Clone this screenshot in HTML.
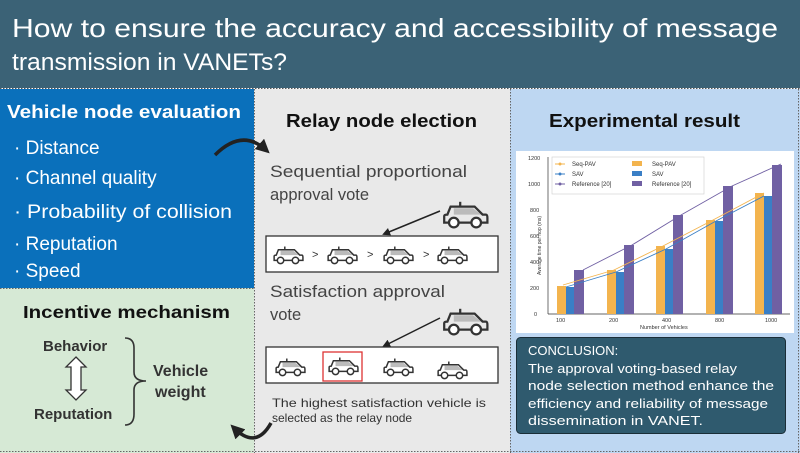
<!DOCTYPE html>
<html><head><meta charset="utf-8"><style>
html,body{margin:0;padding:0;background:#fff}
svg{display:block;font-family:"Liberation Sans",sans-serif}
</style></head><body>
<svg width="800" height="453" viewBox="0 0 800 453" xmlns="http://www.w3.org/2000/svg">
<defs>
<symbol id="car" viewBox="0 0 30 20">
<path d="M12 3 L12 6" fill="none" stroke="#333" stroke-width="1.4"/>
<path d="M8 7 L20 7 L25 11 L8 11 Z" fill="#bbb"/>
<path d="M6 6 L21 6 L26 11 L28 11 Q29 11 29 13 L29 16 L2 16 L2 12 Q2 11 4 11 Z" fill="none" stroke="#333" stroke-width="1.4"/>
<circle cx="8" cy="16" r="3" fill="#fff" stroke="#333" stroke-width="1.4"/>
<circle cx="22" cy="16" r="3" fill="#fff" stroke="#333" stroke-width="1.4"/>
</symbol>
<marker id="ah" markerWidth="8" markerHeight="8" refX="6" refY="4" orient="auto" markerUnits="userSpaceOnUse"><path d="M0 0 L8 4 L0 8 Z" fill="#222"/></marker>
<marker id="ah2" markerWidth="14" markerHeight="14" refX="9" refY="7" orient="auto" markerUnits="userSpaceOnUse"><path d="M0 0 L14 7 L0 14 Z" fill="#222"/></marker>
</defs>
<rect x="0" y="0" width="800" height="88" fill="#3b6276"/>
<text x="12" y="37" font-size="26" fill="#fff" textLength="766" lengthAdjust="spacingAndGlyphs">How to ensure the accuracy and accessibility of message</text>
<text x="12" y="70" font-size="24" fill="#fff" textLength="275" lengthAdjust="spacingAndGlyphs">transmission in VANETs?</text>
<line x1="0" y1="88.5" x2="800" y2="88.5" stroke="#555" stroke-dasharray="1.5 1.5"/>
<rect x="0" y="89" width="254" height="199" fill="#0a70bb"/>
<rect x="0" y="288" width="254" height="165" fill="#d6e9d5"/>
<rect x="254" y="89" width="256" height="364" fill="#e9e9e9"/>
<rect x="510" y="89" width="290" height="364" fill="#bed7f2"/>
<line x1="254.5" y1="89" x2="254.5" y2="453" stroke="#666" stroke-dasharray="1.5 1.5"/>
<line x1="510.5" y1="89" x2="510.5" y2="453" stroke="#666" stroke-dasharray="1.5 1.5"/>
<line x1="0" y1="288.5" x2="254" y2="288.5" stroke="#666" stroke-dasharray="1.5 1.5"/>
<line x1="0" y1="451.5" x2="800" y2="451.5" stroke="#666" stroke-dasharray="1.5 1.5"/>
<line x1="798.5" y1="89" x2="798.5" y2="453" stroke="#666" stroke-dasharray="1.5 1.5"/>
<text x="7" y="118" font-size="18.5" font-weight="bold" fill="#fff" textLength="234" lengthAdjust="spacingAndGlyphs">Vehicle node evaluation</text>
<g font-size="19" fill="#fff">
<text x="14" y="154">· Distance</text>
<text x="14" y="184">· Channel quality</text>
<text x="14" y="218" textLength="218" lengthAdjust="spacingAndGlyphs">· Probability of collision</text>
<text x="14" y="250">· Reputation</text>
<text x="14" y="277">· Speed</text>
</g>
<text x="23" y="318" font-size="17.5" font-weight="bold" fill="#111" textLength="207" lengthAdjust="spacingAndGlyphs">Incentive mechanism</text>
<g font-size="15" font-weight="bold" fill="#333">
<text x="43" y="351">Behavior</text>
<text x="34" y="419">Reputation</text>
<text x="153" y="376" font-size="16">Vehicle</text>
<text x="155" y="397" font-size="16">weight</text>
</g>
<path d="M76 357 L86 367 L81 367 L81 390 L86 390 L76 400 L66 390 L71 390 L71 367 L66 367 Z" fill="#fff" stroke="#333" stroke-width="1.3"/>
<path d="M125 338 Q134 338 134 348 L134 372 Q134 381 146 381 Q134 381 134 390 L134 414 Q134 425 125 425" fill="none" stroke="#333" stroke-width="1.6"/>
<path d="M215 155 Q242 128 266 150" fill="none" stroke="#222" stroke-width="3.5" marker-end="url(#ah2)"/>
<path d="M271 423 Q256 450 234 428" fill="none" stroke="#222" stroke-width="3.5" marker-end="url(#ah2)"/>
<text x="286" y="127" font-size="18" font-weight="bold" fill="#111" textLength="191" lengthAdjust="spacingAndGlyphs">Relay node election</text>
<g font-size="16.5" fill="#444">
<text x="270" y="177" textLength="197" lengthAdjust="spacingAndGlyphs">Sequential proportional</text>
<text x="270" y="200">approval vote</text>
<text x="270" y="297" textLength="175" lengthAdjust="spacingAndGlyphs">Satisfaction approval</text>
<text x="270" y="320">vote</text>
</g>
<use href="#car" x="441" y="196" width="48" height="34"/>
<line x1="440" y1="211" x2="384" y2="234" stroke="#222" stroke-width="1.5" marker-end="url(#ah)"/>
<rect x="266" y="236" width="232" height="36" fill="#fff" stroke="#333" stroke-width="1.3"/>
<use href="#car" x="272" y="243" width="32" height="22"/>
<use href="#car" x="326" y="243" width="32" height="22"/>
<use href="#car" x="382" y="243" width="32" height="22"/>
<use href="#car" x="436" y="243" width="32" height="22"/>
<g font-size="11" fill="#333"><text x="312" y="258">&gt;</text><text x="367" y="258">&gt;</text><text x="423" y="258">&gt;</text></g>
<use href="#car" x="441" y="303" width="48" height="34"/>
<line x1="440" y1="318" x2="384" y2="346" stroke="#222" stroke-width="1.5" marker-end="url(#ah)"/>
<rect x="266" y="347" width="232" height="36" fill="#fff" stroke="#333" stroke-width="1.3"/>
<rect x="323" y="352" width="39" height="29" fill="none" stroke="#d33" stroke-width="1.3"/>
<use href="#car" x="274" y="355" width="32" height="22"/>
<use href="#car" x="327" y="354" width="32" height="22"/>
<use href="#car" x="382" y="355" width="32" height="22"/>
<use href="#car" x="436" y="358" width="32" height="22"/>
<text x="272" y="407" font-size="12" fill="#333" textLength="214" lengthAdjust="spacingAndGlyphs">The highest satisfaction vehicle is</text>
<text x="272" y="422" font-size="12" fill="#333">selected as the relay node</text>
<text x="549" y="127" font-size="18" font-weight="bold" fill="#111" textLength="191" lengthAdjust="spacingAndGlyphs">Experimental result</text>
<rect x="516" y="151" width="278" height="182" fill="#fff"/>
<g font-size="5.5" fill="#333">
<line x1="548" y1="157" x2="548" y2="314" stroke="#333" stroke-width="0.7"/>
<line x1="548" y1="314" x2="790" y2="314" stroke="#333" stroke-width="0.7"/>
<text x="534" y="316">0</text><text x="530" y="290">200</text><text x="530" y="264">400</text><text x="530" y="238">600</text><text x="530" y="212">800</text><text x="528" y="186">1000</text><text x="528" y="160">1200</text>
<text x="556" y="322">100</text><text x="609" y="322">200</text><text x="662" y="322">400</text><text x="715" y="322">800</text><text x="765" y="322">1000</text>
<text x="640" y="329" font-size="5.5">Number of Vehicles</text>
<text transform="translate(541 275) rotate(-90)" font-size="5">Average time per hop (ms)</text>
</g>
<g>
<rect x="557" y="286" width="9" height="28" fill="#f3b44e"/><rect x="566" y="287" width="8" height="27" fill="#3a7fc6"/><rect x="574" y="270" width="10" height="44" fill="#7060a3"/>
<rect x="607" y="270" width="9" height="44" fill="#f3b44e"/><rect x="616" y="272" width="8" height="42" fill="#3a7fc6"/><rect x="624" y="245" width="10" height="69" fill="#7060a3"/>
<rect x="656" y="246" width="9" height="68" fill="#f3b44e"/><rect x="665" y="249" width="8" height="65" fill="#3a7fc6"/><rect x="673" y="215" width="10" height="99" fill="#7060a3"/>
<rect x="706" y="220" width="9" height="94" fill="#f3b44e"/><rect x="715" y="221" width="8" height="93" fill="#3a7fc6"/><rect x="723" y="186" width="10" height="128" fill="#7060a3"/>
<rect x="755" y="193" width="9" height="121" fill="#f3b44e"/><rect x="764" y="196" width="8" height="118" fill="#3a7fc6"/><rect x="772" y="165" width="10" height="149" fill="#7060a3"/>
</g>
<polyline points="563,285 614,270 663,246 713,220 764,193" fill="none" stroke="#f3b44e" stroke-width="0.9"/>
<polyline points="566,287 616,272 666,249 716,221 764,196" fill="none" stroke="#3a7fc6" stroke-width="0.9"/>
<polyline points="583,270 632,245 681,215 732,186 781,164" fill="none" stroke="#7060a3" stroke-width="0.9"/>
<rect x="552" y="157" width="152" height="37" fill="#fff" stroke="#ccc" stroke-width="0.6"/>
<g font-size="6" fill="#333">
<line x1="555" y1="164" x2="565" y2="164" stroke="#f3b44e"/><circle cx="560" cy="164" r="1.5" fill="#f3b44e"/><text x="572" y="166">Seq-PAV</text>
<line x1="555" y1="174" x2="565" y2="174" stroke="#3a7fc6"/><circle cx="560" cy="174" r="1.5" fill="#3a7fc6"/><text x="572" y="176">SAV</text>
<line x1="555" y1="184" x2="565" y2="184" stroke="#7060a3"/><circle cx="560" cy="184" r="1.5" fill="#7060a3"/><text x="572" y="186">Reference [20]</text>
<rect x="632" y="161" width="10" height="5" fill="#f3b44e"/><text x="652" y="166">Seq-PAV</text>
<rect x="632" y="171" width="10" height="5" fill="#3a7fc6"/><text x="652" y="176">SAV</text>
<rect x="632" y="181" width="10" height="5" fill="#7060a3"/><text x="652" y="186">Reference [20]</text>
</g>
<rect x="516.5" y="337.5" width="269" height="96" rx="4" fill="#2f5a6e" stroke="#1a2e38"/>
<g font-size="13" fill="#fff">
<text x="528" y="355">CONCLUSION:</text>
<text x="528" y="373" textLength="209" lengthAdjust="spacingAndGlyphs">The approval voting-based relay</text>
<text x="528" y="390" textLength="246" lengthAdjust="spacingAndGlyphs">node selection method enhance the</text>
<text x="528" y="408" textLength="240" lengthAdjust="spacingAndGlyphs">efficiency and reliability of message</text>
<text x="528" y="425" textLength="175" lengthAdjust="spacingAndGlyphs">dissemination in VANET.</text>
</g>
</svg>
</body></html>
